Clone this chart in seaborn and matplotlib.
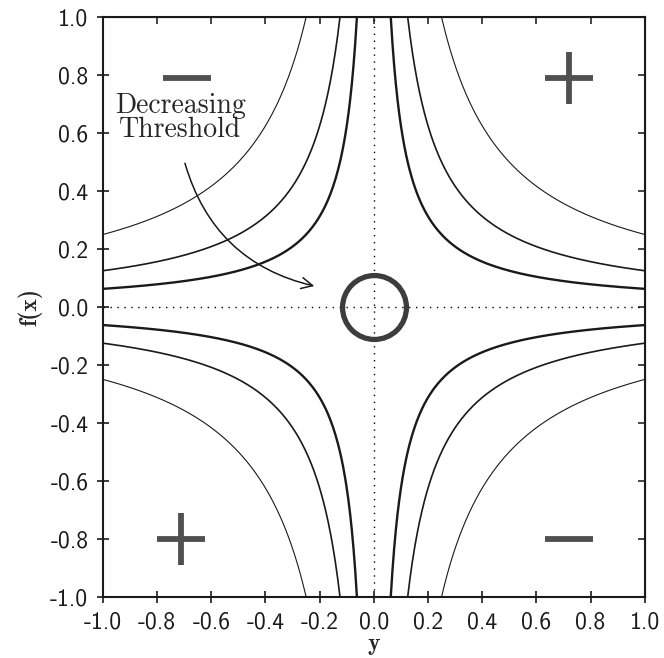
import numpy as np
import pandas as pd
import seaborn as sns
import matplotlib.pyplot as plt
from matplotlib.patches import FancyArrowPatch

# threshold levels: curves are y * f(x) = +/- level
levels = [0.25, 0.125, 0.0625]
level_widths = [0.8, 1.2, 1.7]

# quadrant sign markers
sign_x = [-0.69, 0.72, -0.71, 0.72]
sign_y = [0.79, 0.79, -0.80, -0.80]
sign_kind = ["-", "+", "+", "-"]

ticks = [-1.0, -0.8, -0.6, -0.4, -0.2, 0.0, 0.2, 0.4, 0.6, 0.8, 1.0]
tick_labels = ["-1.0", "-0.8", "-0.6", "-0.4", "-0.2", "0.0", "0.2", "0.4", "0.6", "0.8", "1.0"]

sns.set_style("ticks")
plt.rcParams["font.family"] = ["cmss10", "DejaVu Sans"]

fig = plt.figure(figsize=(6.64, 6.58), dpi=100)
ax = fig.add_axes([0.155, 0.093, 0.816, 0.881])

# the hyperbola branches, one per quadrant and level
rows = []
for lev in levels:
    for sx in (-1, 1):
        for sf in (-1, 1):
            yy = sx * np.linspace(lev, 1.0, 300)
            rows.append(pd.DataFrame({"y": yy, "fx": sf * lev / np.abs(yy),
                                      "level": lev, "branch": f"{lev}_{sx}_{sf}"}))
df = pd.concat(rows, ignore_index=True)

for lev, lw in zip(levels, level_widths):
    sub = df[df["level"] == lev]
    for b, part in sub.groupby("branch"):
        sns.lineplot(data=part, x="y", y="fx", sort=False, estimator=None,
                     color="#1a1a1a", lw=lw, ax=ax)

# dotted axes through origin
ax.axhline(0, color="black", lw=1.0, ls=(0, (1, 4)))
ax.axvline(0, color="black", lw=1.0, ls=(0, (1, 4)))

# circle at origin
ax.plot([0], [0], marker="o", ms=46, mfc="none", mec="#3d3d3d", mew=3.8)

# plus / minus signs
for sx, sy, k in zip(sign_x, sign_y, sign_kind):
    ax.plot([sx], [sy], marker="_", ms=34, mew=4.2, color="#505050")
    if k == "+":
        ax.plot([sx], [sy], marker="|", ms=38, mew=4.2, color="#505050")

# annotation
ax.text(-0.715, 0.652, "Decreasing\nThreshold", family=["cmr10", "DejaVu Serif"],
        fontsize=20, ha="center", va="center", linespacing=0.88)
arrow = FancyArrowPatch((-0.70, 0.505), (-0.21, 0.07),
                        connectionstyle="arc3,rad=0.3", arrowstyle="->,head_length=8,head_width=4",
                        color="#1a1a1a", lw=1.1)
ax.add_patch(arrow)

ax.set_xlim(-1, 1)
ax.set_ylim(-1, 1)
ax.set_xticks(ticks)
ax.set_yticks(ticks)
ax.set_xticklabels(tick_labels, fontsize=17)
ax.set_yticklabels(tick_labels, fontsize=17)
ax.tick_params(direction="inout", length=9, width=1.2, pad=6, colors="#1a1a1a")
for s in ax.spines.values():
    s.set_linewidth(1.5)
    s.set_color("#1a1a1a")

# inward ticks on top and right
top = ax.secondary_xaxis("top")
top.set_xticks(ticks)
top.tick_params(direction="in", length=5, width=1.2, labeltop=False)
right = ax.secondary_yaxis("right")
right.set_yticks(ticks)
right.tick_params(direction="in", length=5, width=1.2, labelright=False)

ax.set_xlabel("y", family=["cmb10", "DejaVu Serif"], fontsize=17, labelpad=0)
ax.set_ylabel("f(x)", family=["cmb10", "DejaVu Serif"], fontsize=17, labelpad=6)

fig.savefig("out.png", dpi=100)
